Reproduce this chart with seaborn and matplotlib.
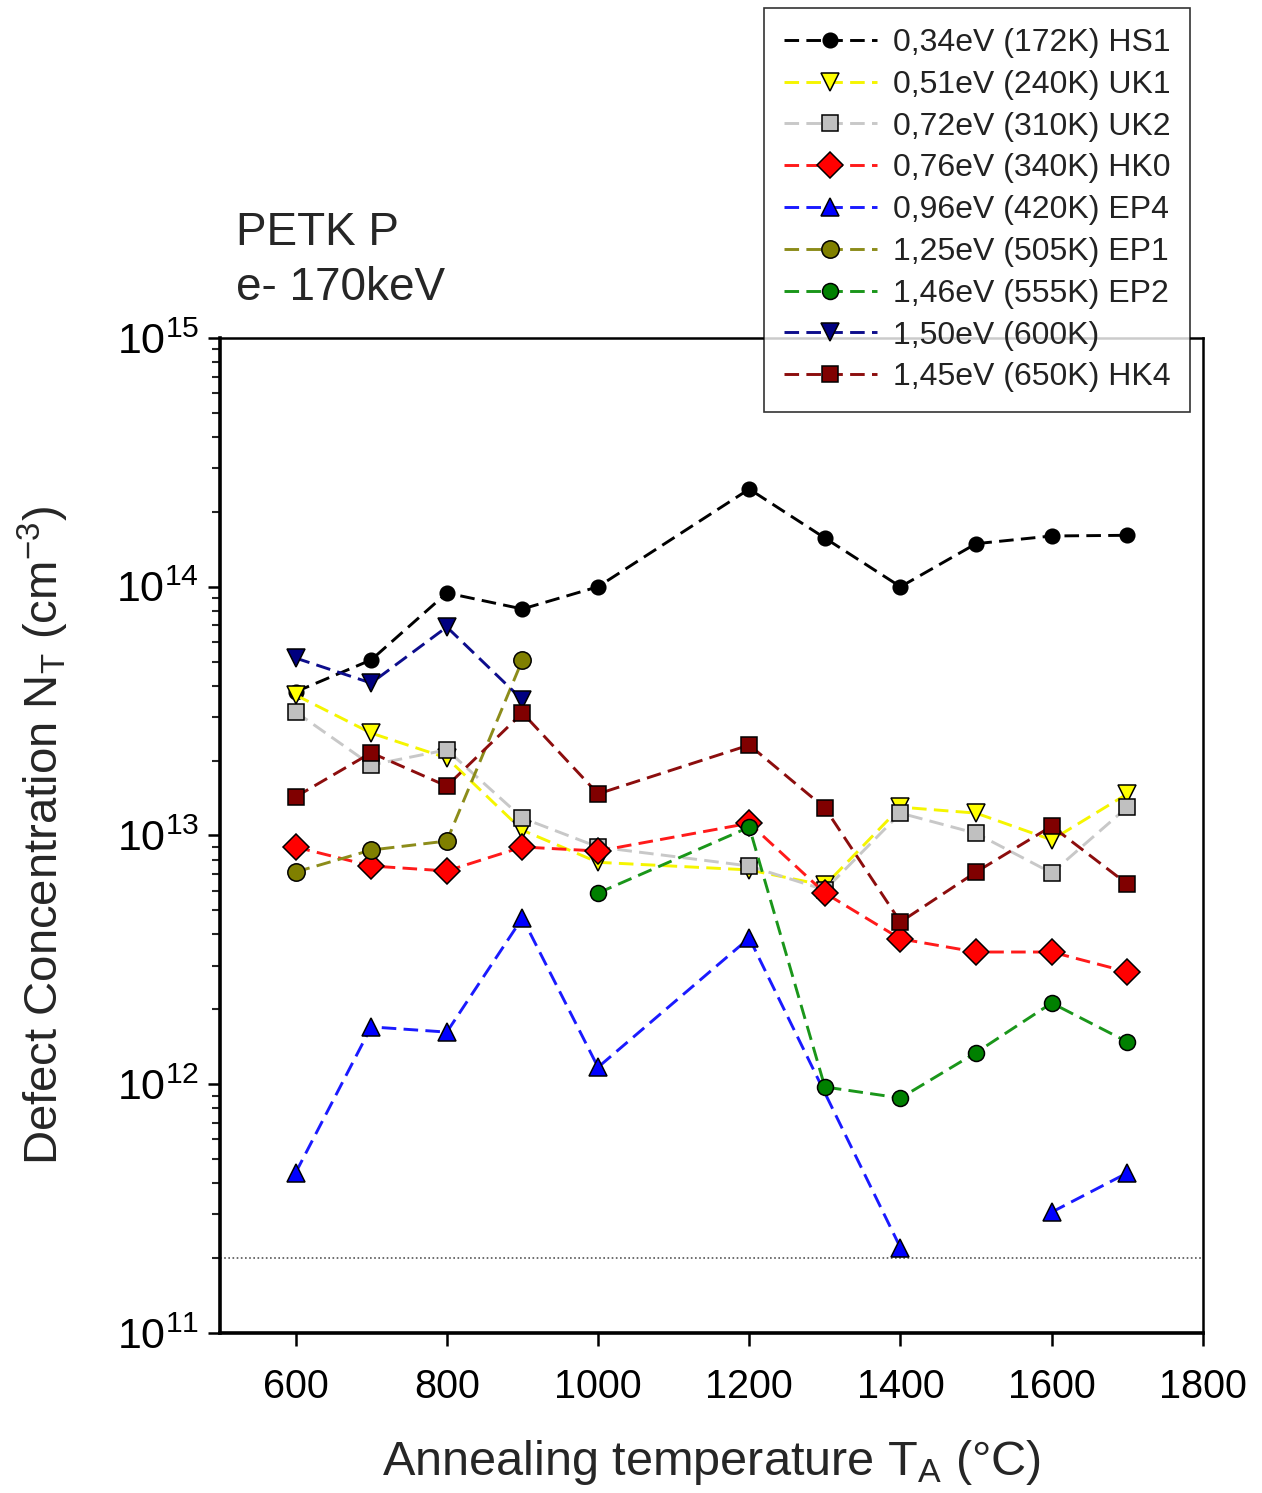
import numpy as np
import pandas as pd
import matplotlib
matplotlib.use("Agg")
import matplotlib.pyplot as plt
from matplotlib.lines import Line2D
from matplotlib.ticker import LogLocator, NullFormatter
import seaborn as sns

sns.set_theme(style="white")
plt.rcParams['font.family'] = ['Liberation Sans', 'DejaVu Sans']
plt.rcParams['mathtext.fontset'] = 'custom'
plt.rcParams['mathtext.rm'] = 'Liberation Sans'
plt.rcParams['mathtext.it'] = 'Liberation Sans'
plt.rcParams['mathtext.default'] = 'regular'

# ---------------- data ----------------
labels = ["0,34eV (172K) HS1", "0,51eV (240K) UK1", "0,72eV (310K) UK2",
          "0,76eV (340K) HK0", "0,96eV (420K) EP4", "1,25eV (505K) EP1",
          "1,46eV (555K) EP2", "1,50eV (600K)", "1,45eV (650K) HK4"]

T_full = [600, 700, 800, 900, 1000, 1200, 1300, 1400, 1500, 1600, 1700]

hs1_T = T_full
hs1_N = [3.78e13, 5.08e13, 9.44e13, 8.14e13, 1.0e14, 2.47e14, 1.57e14, 1.0e14, 1.49e14, 1.60e14, 1.61e14]

uk1_T = T_full
uk1_N = [3.67e13, 2.58e13, 2.05e13, 1.05e13, 7.8e12, 7.27e12, 6.3e12, 1.30e13, 1.23e13, 9.6e12, 1.47e13]

uk2_T = T_full
uk2_N = [3.14e13, 1.92e13, 2.21e13, 1.175e13, 8.99e12, 7.54e12, 6.04e12, 1.23e13, 1.02e13, 7.07e12, 1.30e13]

hk0_T = T_full
hk0_N = [8.99e12, 7.54e12, 7.2e12, 8.99e12, 8.66e12, 1.12e13, 5.87e12, 3.84e12, 3.40e12, 3.40e12, 2.83e12]

ep4_T = [600, 700, 800, 900, 1000, 1200, 1400, 1600, 1700]
ep4_N = [4.40e11, 1.70e12, 1.62e12, 4.66e12, 1.17e12, 3.87e12, 2.20e11, 3.06e11, 4.40e11]
ep4_seg = [0, 0, 0, 0, 0, 0, 0, 1, 1]

ep1_T = [600, 700, 800, 900]
ep1_N = [7.13e12, 8.74e12, 9.5e12, 5.08e13]

ep2_T = [1000, 1200, 1300, 1400, 1500, 1600, 1700]
ep2_N = [5.87e12, 1.08e13, 9.75e11, 8.8e11, 1.34e12, 2.12e12, 1.48e12]

e150_T = [600, 700, 800, 900]
e150_N = [5.17e13, 4.10e13, 6.89e13, 3.51e13]

hk4_T = T_full
hk4_N = [1.43e13, 2.15e13, 1.58e13, 3.11e13, 1.47e13, 2.31e13, 1.29e13, 4.49e12, 7.13e12, 1.09e13, 6.38e12]

detection_limit = 2e11

xticks = [600, 800, 1000, 1200, 1400, 1600, 1800]

# ---------------- styles ----------------
line_colors = ["black", "#f5f500", "#c8c8c8", "#ff1a1a", "#1a1aff",
               "#8c8c1a", "#1a961a", "#0d0d8c", "#8c0d0d"]
face_colors = ["black", "#ffff00", "#c0c0c0", "#ff0000", "#0000ff",
               "#808000", "#008000", "#000080", "#800000"]
markers = ["o", "v", "s", "D", "^", "o", "o", "v", "s"]
msizes = [10.5, 12.5, 12, 13, 12.5, 12.5, 11.5, 12.5, 12]

series = [(hs1_T, hs1_N), (uk1_T, uk1_N), (uk2_T, uk2_N), (hk0_T, hk0_N),
          (ep4_T, ep4_N), (ep1_T, ep1_N), (ep2_T, ep2_N), (e150_T, e150_N),
          (hk4_T, hk4_N)]

fig = plt.figure(figsize=(12.62, 14.93), dpi=100)
ax = fig.add_axes([0.1743, 0.1072, 0.9532 - 0.1743, 0.7736 - 0.1072])

dash = (0, (5, 2.5))

ax.axhline(detection_limit, color="#555555", lw=1.2, ls=(0, (1, 1.5)), zorder=1)

handles = []
for i, (lab, (T, N)) in enumerate(zip(labels, series)):
    if i == 4:
        seg = ep4_seg
    else:
        seg = [0] * len(T)
    df = pd.DataFrame({"T": T, "N": N, "seg": seg})
    sns.lineplot(data=df, x="T", y="N", units="seg", estimator=None, ax=ax,
                 color=line_colors[i], lw=2.1, linestyle=dash,
                 marker=markers[i], markersize=msizes[i],
                 markerfacecolor=face_colors[i], markeredgecolor="black",
                 markeredgewidth=1.1, legend=False, sort=False, zorder=3)
    handles.append(Line2D([], [], color=line_colors[i], lw=2.1, linestyle=dash,
                          marker=markers[i], markersize=msizes[i],
                          markerfacecolor=face_colors[i],
                          markeredgecolor="black", markeredgewidth=1.1))

ax.set_yscale("log")
ax.set_ylim(1e11, 1e15)
ax.set_xlim(500, 1800)
ax.set_xticks(xticks)
ax.yaxis.set_major_locator(LogLocator(base=10, numticks=10))
ax.yaxis.set_minor_locator(LogLocator(base=10, subs=np.arange(2, 10), numticks=20))
ax.yaxis.set_minor_formatter(NullFormatter())

ax.tick_params(axis="both", which="major", direction="out", length=9, width=1.8,
               color="black", labelcolor="black",
               left=True, bottom=True, top=False, right=False)
ax.tick_params(axis="x", which="major", labelsize=28.5, pad=16)
ax.tick_params(axis="y", which="major", labelsize=31, pad=6)
ax.tick_params(axis="y", which="minor", direction="out", length=6, width=1.5,
               left=True, right=False)

for s in ["left", "bottom"]:
    ax.spines[s].set_linewidth(2.6)
    ax.spines[s].set_color("black")
for s in ["top", "right"]:
    ax.spines[s].set_linewidth(1.8)
    ax.spines[s].set_color("black")

ax.set_xlabel("Annealing temperature T$_A$ (°C)", fontsize=35)
ax.set_ylabel("Defect Concentration N$_T$ (cm$^{-3}$)", fontsize=34)
ax.yaxis.set_label_coords(-0.152, 0.5)
ax.xaxis.set_label_coords(0.5, -0.106)
ax.grid(False)

fig.text(0.187, 0.836, "PETK P", fontsize=33, ha="left", va="baseline")
fig.text(0.187, 0.799, "e- 170keV", fontsize=33, ha="left", va="baseline")

leg = fig.legend(handles, labels, loc="upper right",
                 bbox_to_anchor=(0.943, 0.9946), fontsize=23,
                 frameon=True, fancybox=False, edgecolor="black",
                 handlelength=2.9, handletextpad=0.5, labelspacing=0.37,
                 borderpad=0.62, borderaxespad=0)
leg.get_frame().set_linewidth(1.2)
leg.set_zorder(10)
for t in leg.get_texts():
    t.set_color("#222222")

fig.savefig("out.png", dpi=100, facecolor="white")
